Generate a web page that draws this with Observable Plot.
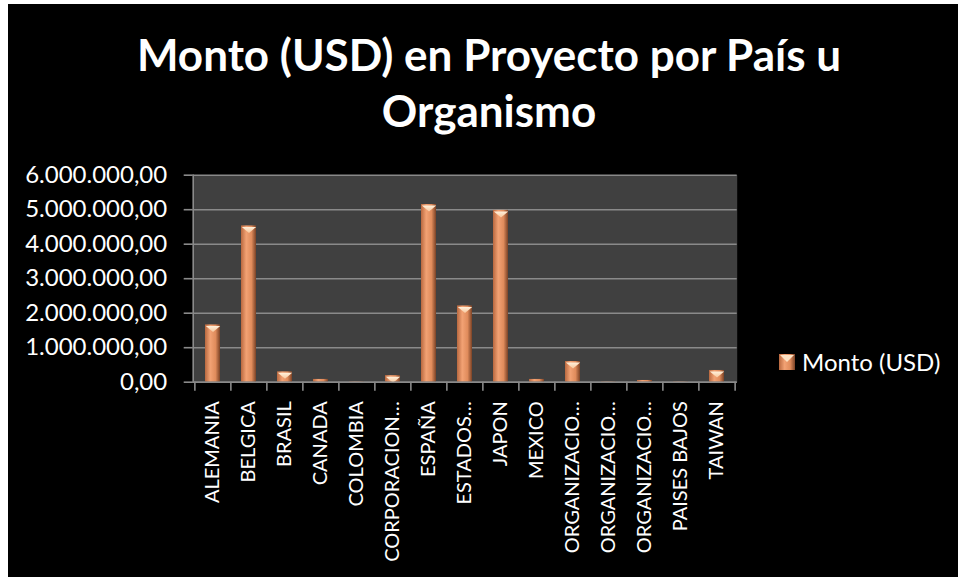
<!DOCTYPE html>
<html>
<head>
<meta charset="utf-8">
<script src="https://cdn.jsdelivr.net/npm/d3@7"></script>
<script src="https://cdn.jsdelivr.net/npm/@observablehq/plot@0.6"></script>
<style>
  html, body { margin: 0; padding: 0; background: #fff; width: 958px; height: 577px; overflow: hidden; }
  #bg { position: absolute; left: 8px; top: 4px; width: 950px; height: 573px; background: #000; }
  #title { position: absolute; left: 489px; top: 26px; transform: translateX(-50%); color: #fff;
           font-family: Lato, "Open Sans", sans-serif; font-weight: 700; font-size: 44px; line-height: 56px;
           text-align: center; white-space: nowrap; }
  #chart { position: absolute; left: 8px; top: 150px; }
  #legend { position: absolute; left: 779px; top: 347px; color: #fff; font-family: Lato, sans-serif;
            font-size: 24px; display: flex; align-items: center; gap: 7px; }
</style>
</head>
<body>
<div id="bg"></div>
<div id="title">Monto (USD) en Proyecto por País u<br>Organismo</div>
<div id="chart"></div>
<div id="legend">
  <svg width="16" height="16" viewBox="0 0 16 16">
    <defs>
      <linearGradient id="legGrad" x1="0" x2="1" y1="0" y2="0">
        <stop offset="0" stop-color="#b8683f"/>
        <stop offset="0.35" stop-color="#f2a274"/>
        <stop offset="0.7" stop-color="#e08c5c"/>
        <stop offset="1" stop-color="#7a4226"/>
      </linearGradient>
    </defs>
    <rect x="0" y="0" width="16" height="16" fill="url(#legGrad)"/>
    <path d="M1,1 L15,1 L8,8 Z" fill="#fde2c4"/>
  </svg>
  <span>Monto (USD)</span>
</div>
<script>
// ---- data ----
const categories = ["ALEMANIA", "BELGICA", "BRASIL", "CANADA", "COLOMBIA", "CORPORACION…", "ESPAÑA", "ESTADOS…",
                    "JAPON", "MEXICO", "ORGANIZACIO…", "ORGANIZACIO…", "ORGANIZACIO…", "PAISES BAJOS", "TAIWAN"];
const montoUSD = [1660000, 4530000, 300000, 80000, 10000, 190000, 5150000, 2210000,
                  4980000, 80000, 600000, 10000, 50000, 10000, 340000];
const yTicks = [0, 1000000, 2000000, 3000000, 4000000, 5000000, 6000000];

const data = categories.map((c, i) => ({i, label: c, value: montoUSD[i]}));

const locale = d3.formatLocale({decimal: ",", thousands: ".", grouping: [3], currency: ["", ""]});
const fmt = locale.format(",.2f");

const W = 950, H = 427;
const mL = 184.7, mR = 221.3, mT = 24.7, mB = 195.3;
const step = (W - mL - mR) / categories.length;
const grey = "#8a8a8a";

const defs = () => {
  const g = d3.create("svg:defs");
  const lg = g.append("linearGradient").attr("id", "barGrad").attr("x1", 0).attr("x2", 1).attr("y1", 0).attr("y2", 0);
  [[0, "#b8683f"], [0.35, "#f2a274"], [0.7, "#e08c5c"], [1, "#7a4226"]]
    .forEach(([o, c]) => lg.append("stop").attr("offset", o).attr("stop-color", c));
  const tg = g.append("linearGradient").attr("id", "topGrad").attr("x1", 0).attr("x2", 0).attr("y1", 0).attr("y2", 1);
  [[0, "#fff1dc"], [1, "#f8c79c"]].forEach(([o, c]) => tg.append("stop").attr("offset", o).attr("stop-color", c));
  return g.node();
};

const bevel = {
  draw(ctx) {
    const w = 7.2, h = 6;
    ctx.moveTo(-w, 0); ctx.lineTo(w, 0); ctx.lineTo(0, h); ctx.closePath();
  }
};

const chart = Plot.plot({
  width: W, height: H,
  marginLeft: mL, marginRight: mR, marginTop: mT, marginBottom: mB,
  style: {background: "transparent", color: "#fff", fontFamily: "Lato, 'Open Sans', sans-serif"},
  x: {type: "band", domain: d3.range(categories.length), paddingInner: 0.586, paddingOuter: 0.293},
  y: {domain: [0, 6000000]},
  marks: [
    defs,
    Plot.frame({fill: "#404040", stroke: null}),
    Plot.ruleY(yTicks, {stroke: grey, strokeWidth: 1.6}),
    Plot.frame({anchor: "left", stroke: grey, strokeWidth: 1.6}),
    Plot.barY(data, {x: "i", y: "value", fill: "url(#barGrad)"}),
    Plot.dot(data.filter(d => d.value >= 150000), {x: "i", y: "value", symbol: bevel, fill: "url(#topGrad)", stroke: null, dy: 1}),
    Plot.ruleY([0], {stroke: grey, strokeWidth: 1.6}),
    Plot.ruleX(data, {x: "i", y1: 0, y2: 0, insetBottom: -9, dx: -step / 2, stroke: grey, strokeWidth: 1.6}),
    Plot.ruleX(data.slice(-1), {x: "i", y1: 0, y2: 0, insetBottom: -9, dx: step / 2, stroke: grey, strokeWidth: 1.6}),
    Plot.axisY({ticks: yTicks, tickFormat: fmt, tickSize: 9, tickPadding: 17, fontSize: 24, stroke: grey, strokeWidth: 1.6, label: null}),
    Plot.axisX({tickRotate: -90, tickSize: 0, tickPadding: 19, fontSize: 20, tickFormat: i => categories[i], label: null})
  ]
});
document.getElementById("chart").appendChild(chart);
</script>
</body>
</html>
